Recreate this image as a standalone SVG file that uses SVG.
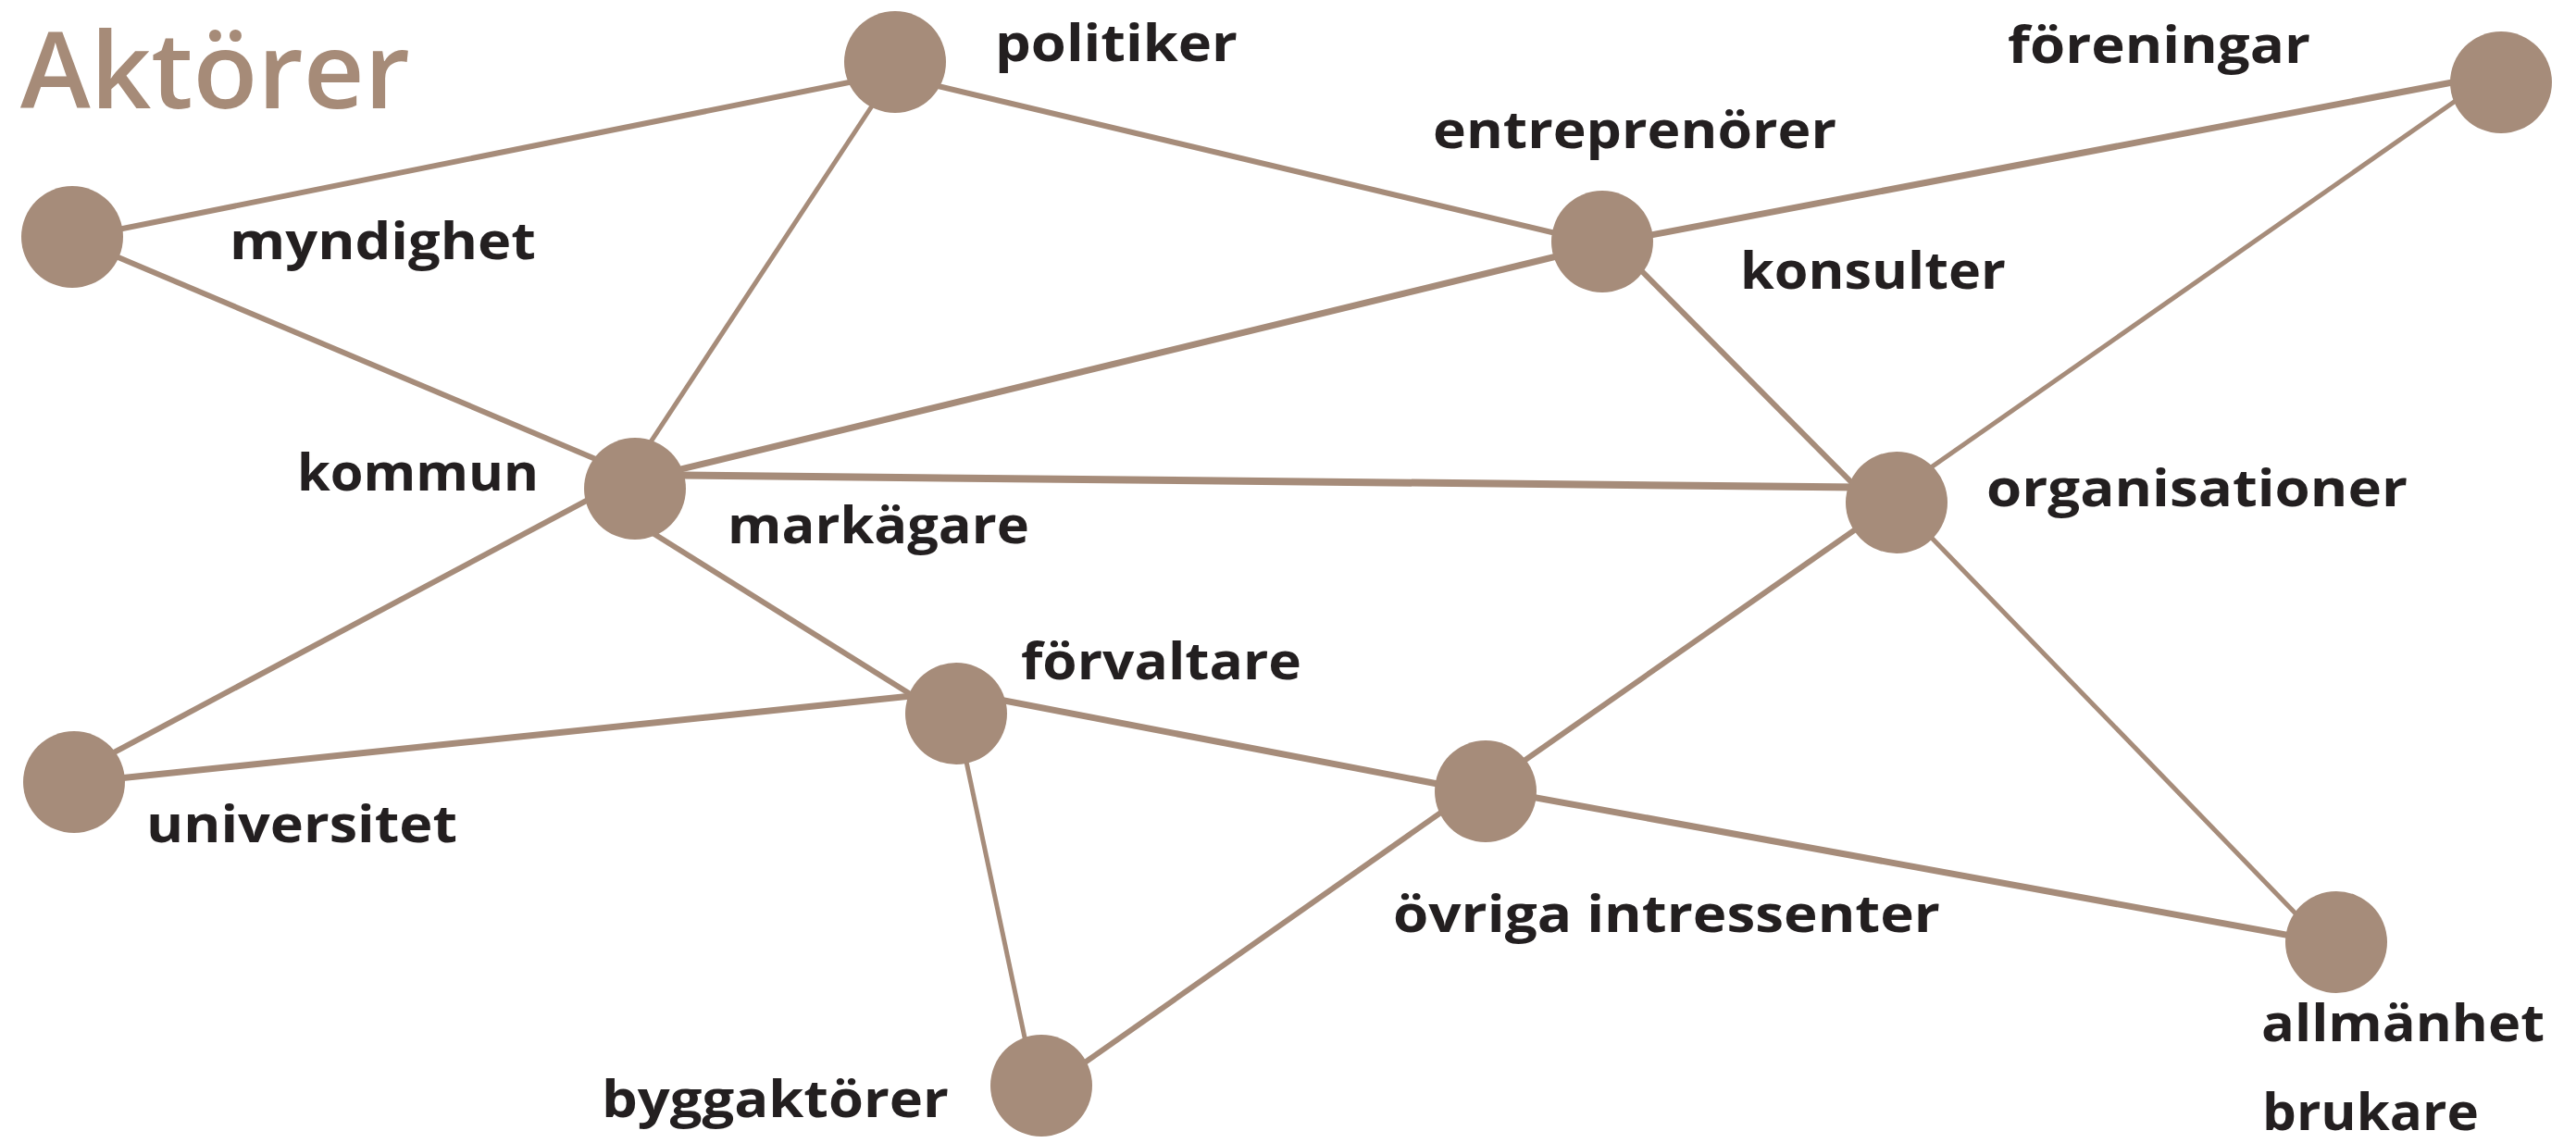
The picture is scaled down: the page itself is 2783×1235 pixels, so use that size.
<svg xmlns="http://www.w3.org/2000/svg" width="2783" height="1235" viewBox="0 0 2783 1235">
<style>
.bg{fill:#ffffff}
.node{fill:#a68c7a}
.e{stroke:#a68c7a;stroke-linecap:butt;fill:none}
.w5{stroke-width:5}
.w6{stroke-width:6}
.w7{stroke-width:7}
.w8{stroke-width:8}
.lbl{font-family:"Open Sans","DejaVu Sans",sans-serif;font-weight:700;font-size:56px;fill:#231f20}
.title{font-family:"Open Sans","DejaVu Sans",sans-serif;font-weight:600;font-size:114px;fill:#a68b78}
</style>
<rect class="bg" x="0" y="0" width="2783" height="1235"/>
<text class="title" x="22" y="117" textLength="421" lengthAdjust="spacingAndGlyphs">Aktörer</text>
<g id="connectors">
<line class="e w6" x1="78" y1="258" x2="967" y2="79"/>
<line class="e w6" x1="78" y1="257" x2="686" y2="514"/>
<line class="e w5" x1="972" y1="69" x2="675" y2="520"/>
<line class="e w6" x1="967" y1="82" x2="1731" y2="264"/>
<line class="e w7" x1="1731" y1="264" x2="2702" y2="79"/>
<line class="e w7" x1="686" y1="519" x2="1731" y2="265"/>
<line class="e w6" x1="1745" y1="264" x2="2010" y2="531"/>
<line class="e w5" x1="2700" y1="76" x2="2049" y2="531"/>
<line class="e w8" x1="686" y1="513" x2="2049" y2="527"/>
<line class="e w6" x1="80" y1="836" x2="686" y2="513"/>
<line class="e w6" x1="686" y1="564" x2="1033" y2="781"/>
<line class="e w7" x1="80" y1="846" x2="1033" y2="747"/>
<line class="e w7" x1="1033" y1="747" x2="1605" y2="857"/>
<line class="e w5" x1="1033" y1="771" x2="1118" y2="1173"/>
<line class="e w6" x1="1125" y1="1181" x2="1605" y2="844"/>
<line class="e w6" x1="1605" y1="851" x2="2049" y2="541"/>
<line class="e w7" x1="1605" y1="852" x2="2524" y2="1020"/>
<line class="e w5" x1="2049" y1="542" x2="2510" y2="1018"/>
</g>
<g id="node-politiker"><circle class="node" cx="967" cy="67" r="55"/><text class="lbl" x="1075" y="66" textLength="262" lengthAdjust="spacingAndGlyphs">politiker</text></g>
<g id="node-myndighet"><circle class="node" cx="78" cy="256" r="55"/><text class="lbl" x="248" y="280" textLength="331" lengthAdjust="spacingAndGlyphs">myndighet</text></g>
<g id="node-foreningar"><circle class="node" cx="2702" cy="89" r="55"/><text class="lbl" x="2169" y="68" textLength="327" lengthAdjust="spacingAndGlyphs">föreningar</text></g>
<g id="node-entreprenorer"><circle class="node" cx="1731" cy="261" r="55"/><text class="lbl" x="1548" y="160" textLength="436" lengthAdjust="spacingAndGlyphs">entreprenörer</text><text class="lbl" x="1880" y="312" textLength="287" lengthAdjust="spacingAndGlyphs">konsulter</text></g>
<g id="node-kommun"><circle class="node" cx="686" cy="528" r="55"/><text class="lbl" x="321" y="530" textLength="261" lengthAdjust="spacingAndGlyphs">kommun</text><text class="lbl" x="786" y="587" textLength="326" lengthAdjust="spacingAndGlyphs">markägare</text></g>
<g id="node-organisationer"><circle class="node" cx="2049" cy="543" r="55"/><text class="lbl" x="2146" y="547" textLength="455" lengthAdjust="spacingAndGlyphs">organisationer</text></g>
<g id="node-forvaltare"><circle class="node" cx="1033" cy="771" r="55"/><text class="lbl" x="1103" y="734" textLength="303" lengthAdjust="spacingAndGlyphs">förvaltare</text></g>
<g id="node-universitet"><circle class="node" cx="80" cy="845" r="55"/><text class="lbl" x="158" y="910" textLength="336" lengthAdjust="spacingAndGlyphs">universitet</text></g>
<g id="node-ovriga"><circle class="node" cx="1605" cy="855" r="55"/><text class="lbl" x="1505" y="1007" textLength="591" lengthAdjust="spacingAndGlyphs">övriga intressenter</text></g>
<g id="node-allmanhet"><circle class="node" cx="2524" cy="1018" r="55"/><text class="lbl" x="2443" y="1125" textLength="306" lengthAdjust="spacingAndGlyphs">allmänhet</text><text class="lbl" x="2444" y="1221" textLength="234" lengthAdjust="spacingAndGlyphs">brukare</text></g>
<g id="node-byggaktorer"><circle class="node" cx="1125" cy="1173" r="55"/><text class="lbl" x="650" y="1207" textLength="375" lengthAdjust="spacingAndGlyphs">byggaktörer</text></g>
</svg>
